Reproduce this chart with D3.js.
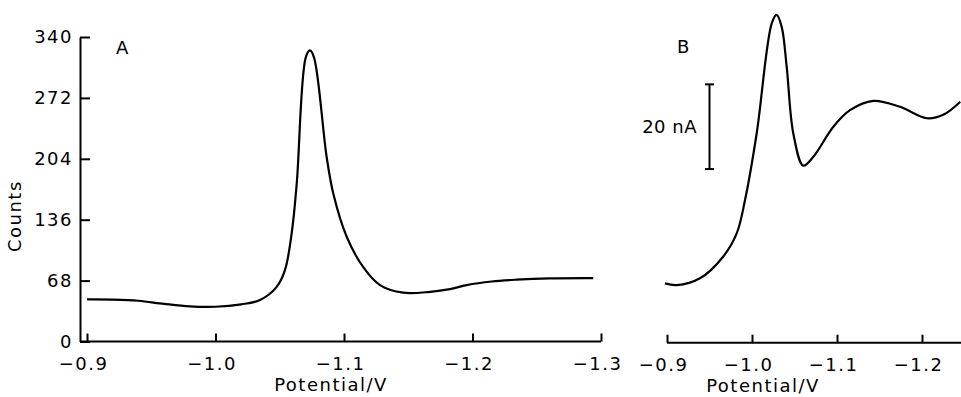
<!DOCTYPE html>
<html>
<head>
<meta charset="utf-8">
<script src="https://cdn.jsdelivr.net/npm/d3@7"></script>
<style>
  body { margin: 0; background: #fff; }
  svg { display: block; }
  text { font-family: "DejaVu Sans", sans-serif; font-size: 18px; letter-spacing: 1.5px; fill: #000; }
  .line { fill: none; stroke: #000; stroke-width: 2.2; }
</style>
</head>
<body>
<svg width="961" height="397"></svg>
<script>

// panel A: counts vs potential
var potentialA = [-0.9, -0.92, -0.94, -0.96, -0.98, -1.0, -1.02, -1.0346, -1.0476, -1.0541, -1.0593,
                  -1.0632, -1.0702, -1.0735, -1.0767, -1.0865, -1.0917, -1.1021,
                  -1.115, -1.128, -1.146, -1.167, -1.1825, -1.1955, -1.215, -1.234, -1.26, -1.294];
var countsA = [47, 46.8, 45.5, 42, 39.2, 38.8, 41.5, 46.3, 61, 80, 121,
               176, 317, 325, 317, 206, 165, 117,
               83, 63, 54.5, 55.5, 58.5, 63, 67, 69, 70.5, 70.8];

// panel B: current (nA, arbitrary offset) vs potential
var potentialB = [-0.8976, -0.9114, -0.9388, -0.966, -0.982, -0.9918, -1.0055, -1.0232,
                  -1.029, -1.0349, -1.0408, -1.0486, -1.0604, -1.0722, -1.0957, -1.1153, -1.1427,
                  -1.1741, -1.2055, -1.225, -1.245];
var currentB = [14.0, 13.6, 15.2, 20.3, 25.8, 33.7, 49.4, 75.4,
                77.4, 74.6, 65.2, 49.4, 41.8, 43.9, 51, 54.9, 57.1,
                55.7, 53, 53.8, 56.9];

var countTicks = [0, 68, 136, 204, 272, 340];
var potentialTicksA = [-0.9, -1.0, -1.1, -1.2, -1.3];
var potentialTicksB = [-0.9, -1.0, -1.1, -1.2];
var scaleBarStart = 41, scaleBarLength = 20, scaleBarLabel = "20 nA";

var svg = d3.select("svg");
var fmt = d3.format(".1f");

// ---- panel A ----
var xA = d3.scaleLinear().domain([-0.9, -1.3]).range([87, 601]),
    yA = d3.scaleLinear().domain([0, 340]).range([341.5, 37]);

var axA = svg.append("g")
    .attr("class", "axis axis--x")
    .attr("transform", "translate(0," + yA(0) + ")")
    .call(d3.axisBottom(xA).tickValues(potentialTicksA).tickFormat(fmt).tickSize(-8).tickSizeOuter(0).tickPadding(16));
axA.select(".domain").attr("d", "M80,0H" + xA(-1.3));

svg.append("g")
    .attr("class", "axis")
    .attr("transform", "translate(80,0)")
    .call(d3.axisLeft(yA).tickValues(countTicks).tickSize(-10).tickSizeOuter(0).tickPadding(7));

svg.append("text")
    .attr("transform", "translate(21," + yA(140) + ") rotate(-90)")
    .attr("text-anchor", "middle")
    .text("Counts");

svg.append("text")
    .attr("x", 331).attr("y", 391)
    .attr("text-anchor", "middle")
    .text("Potential/V");

svg.append("text").attr("x", 123).attr("y", 54).attr("text-anchor", "middle").text("A");

var lineA = d3.line()
    .curve(d3.curveCatmullRom.alpha(0.5))
    .x(function(d, i) { return xA(potentialA[i]); })
    .y(function(d) { return yA(d); });

svg.append("path").attr("class", "line").attr("d", lineA(countsA));

// ---- panel B ----
var xB = d3.scaleLinear().domain([-0.9, -1.2]).range([667, 922]),
    yB = d3.scaleLinear().domain([0, 80]).range([342.7, 342.7 - 80 * 4.235]);

var axB = svg.append("g")
    .attr("class", "axis axis--x")
    .attr("transform", "translate(0," + yB(0) + ")")
    .call(d3.axisBottom(xB).tickValues(potentialTicksB).tickFormat(fmt).tickSize(-8).tickSizeOuter(0).tickPadding(16));
axB.select(".domain").attr("d", "M" + xB(-0.9) + ",0H961");

svg.append("text")
    .attr("x", 763).attr("y", 392)
    .attr("text-anchor", "middle")
    .text("Potential/V");

svg.append("text").attr("x", 684).attr("y", 53).attr("text-anchor", "middle").text("B");

var lineB = d3.line()
    .curve(d3.curveCatmullRom.alpha(0.5))
    .x(function(d, i) { return xB(potentialB[i]); })
    .y(function(d) { return yB(d); });

svg.append("path").attr("class", "line").attr("d", lineB(currentB));

// scale bar
var bar = svg.append("g").attr("class", "scalebar");
bar.append("line")
    .attr("x1", 709.5).attr("x2", 709.5)
    .attr("y1", yB(scaleBarStart)).attr("y2", yB(scaleBarStart + scaleBarLength));
[scaleBarStart, scaleBarStart + scaleBarLength].forEach(function(v) {
  bar.append("line")
    .attr("x1", 705).attr("x2", 714)
    .attr("y1", yB(v)).attr("y2", yB(v));
});
bar.selectAll("line").attr("stroke", "#000").attr("stroke-width", 2);
bar.append("text")
    .attr("x", 697).attr("y", yB(scaleBarStart + scaleBarLength / 2))
    .attr("dy", "0.35em")
    .attr("text-anchor", "end")
    .style("letter-spacing", "0.5px")
    .text(scaleBarLabel);

// axis styling
svg.selectAll(".axis path, .axis line").attr("stroke", "#000").attr("stroke-width", 2);
svg.selectAll(".axis").attr("font-family", null).attr("font-size", null);
svg.selectAll(".axis text").attr("fill", "#000");
svg.selectAll(".axis--x text").attr("dx", -4);

</script>
</body>
</html>
